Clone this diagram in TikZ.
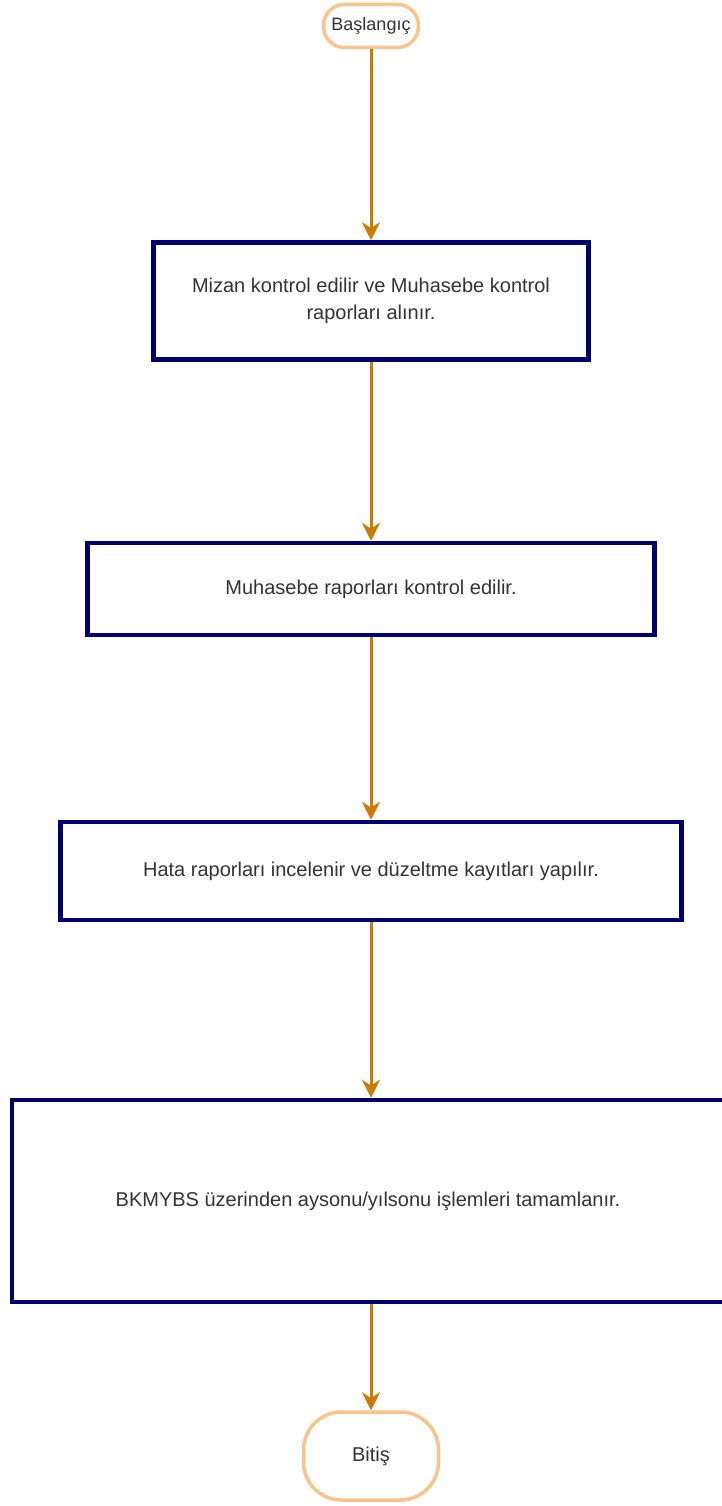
\documentclass[tikz,border=0pt]{standalone}
\usepackage{fontspec}
\setmainfont{Liberation Sans}
\usetikzlibrary{arrows.meta,positioning}
\definecolor{boxnavy}{RGB}{0,0,112}
\definecolor{arrowgold}{RGB}{204,122,0}
\definecolor{pillrim}{RGB}{248,196,140}

\begin{document}
\begin{tikzpicture}[>={Stealth[length=18pt,width=18pt]},x=1pt,y=-1pt,
  procbox/.style={draw=boxnavy,line width=4.5pt,fill=white,align=center,text=black!80,
    font=\fontsize{20}{27}\selectfont,inner sep=0pt},
  termnode/.style={draw=pillrim,line width=3.5pt,fill=white,text=black!80,
    font=\fontsize{18}{22}\selectfont,inner sep=0pt},
  flowarrow/.style={->,draw=arrowgold,fill=arrowgold,line width=3pt}]
\useasboundingbox (0,0) rectangle (721,1506);
\node[termnode,minimum width=95pt,minimum height=43pt,rounded corners=21pt] (start) at (371,26) {Başlangıç};
\node[procbox,minimum width=435pt,minimum height=117pt] (mizan) at (371,301) {Mizan kontrol edilir ve Muhasebe kontrol\\raporları alınır.};
\node[procbox,minimum width=567pt,minimum height=92pt] (muhasebe) at (371,589) {Muhasebe raporları kontrol edilir.};
\node[procbox,minimum width=621pt,minimum height=98pt] (hata) at (371,871) {Hata raporları incelenir ve düzeltme kayıtları yapılır.};
\node[procbox,minimum width=712pt,minimum height=202pt] (bkmybs) at (368,1201) {BKMYBS üzerinden aysonu/yılsonu işlemleri tamamlanır.};
\node[termnode,minimum width=135pt,minimum height=88pt,rounded corners=38pt,
  font=\fontsize{20}{24}\selectfont] (bitis) at (371,1456) {Bitiş};
% akis oklari
\draw[flowarrow] (start) -- (mizan);
\draw[flowarrow] (mizan) -- (muhasebe);
\draw[flowarrow] (muhasebe) -- (hata);
\draw[flowarrow] (hata) -- (hata |- bkmybs.north);
\draw[flowarrow] (bkmybs.south -| bitis) -- (bitis);
\end{tikzpicture}
\end{document}
